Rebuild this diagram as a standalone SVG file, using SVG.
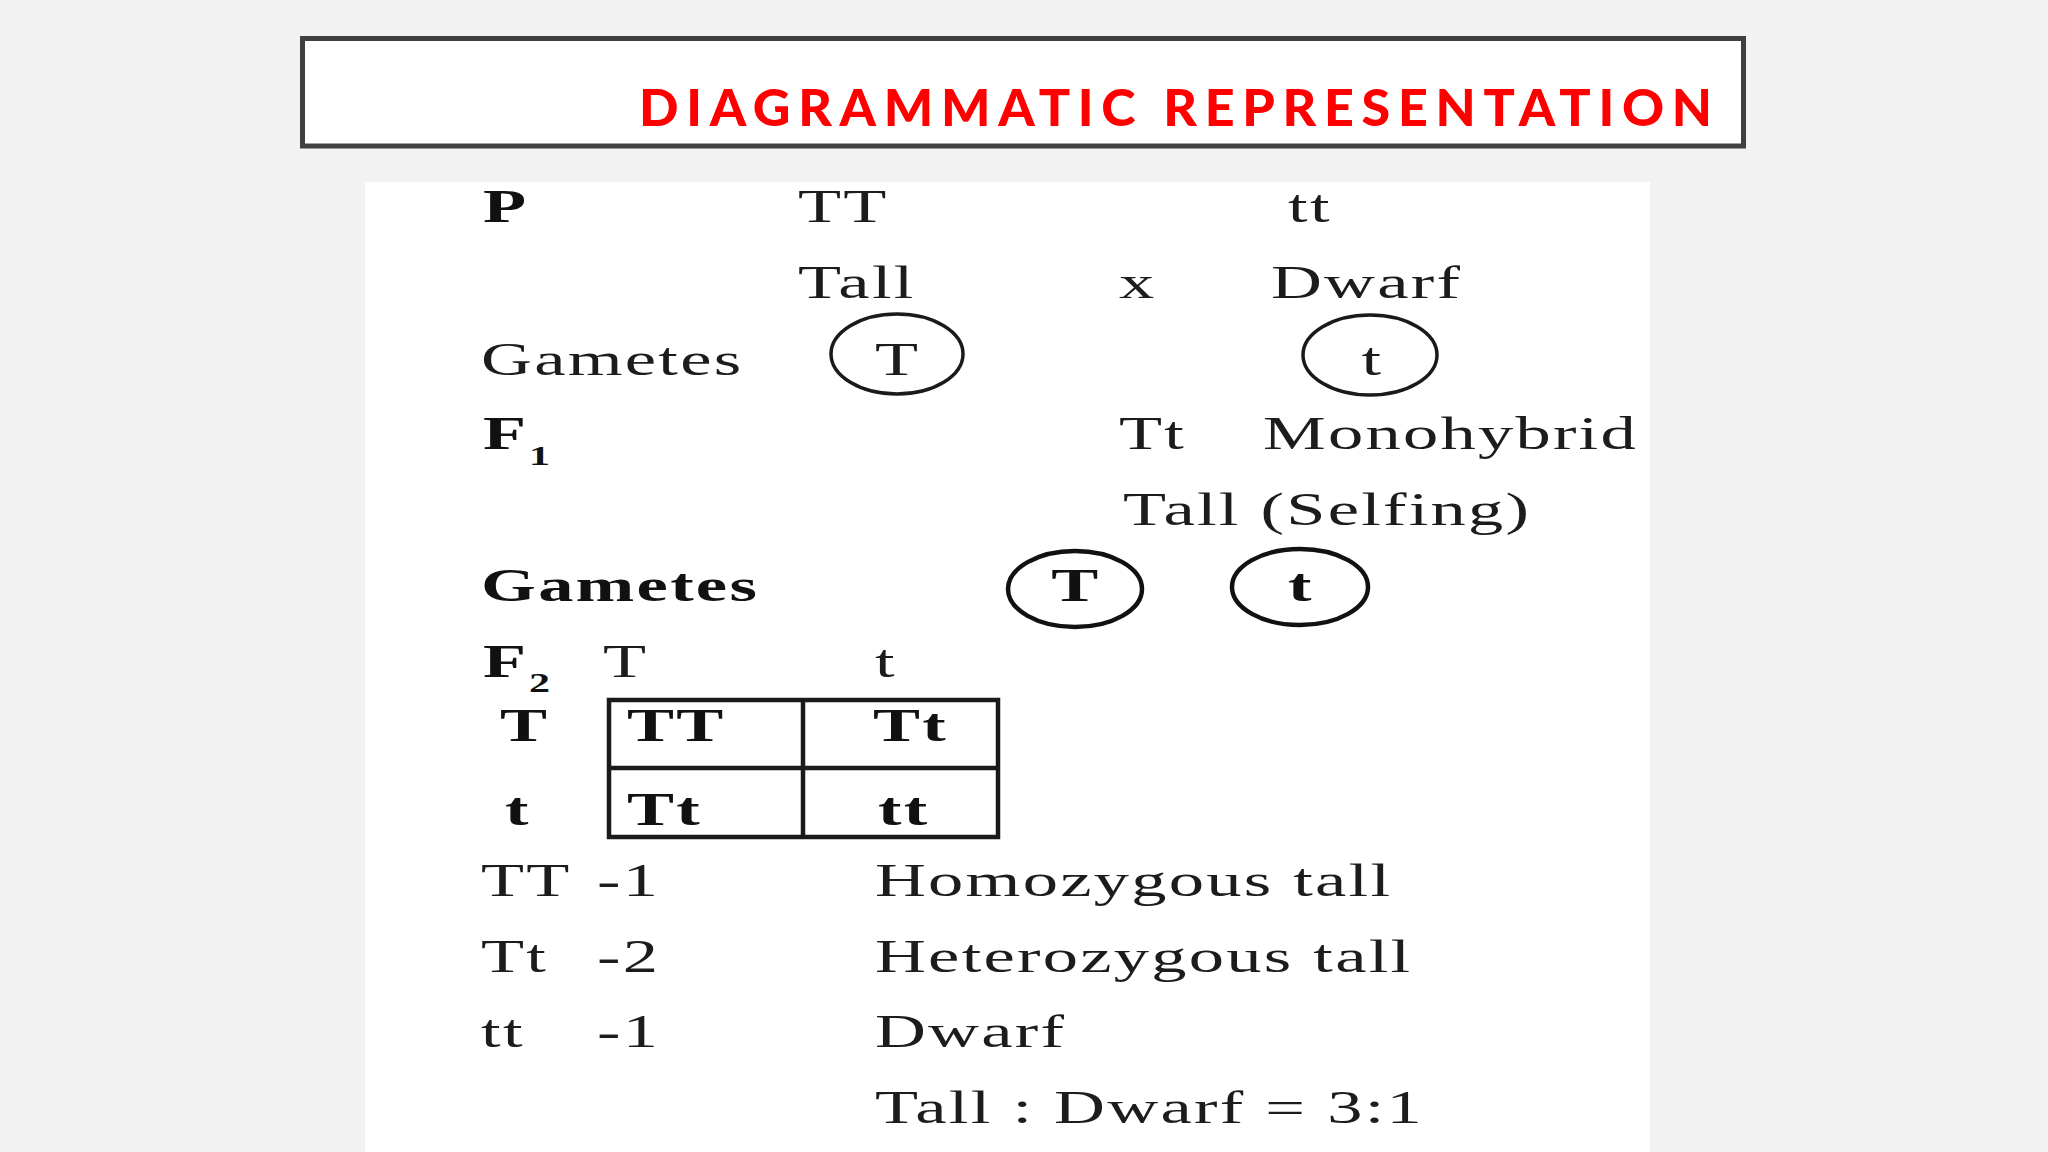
<svg xmlns="http://www.w3.org/2000/svg" width="2048" height="1152" viewBox="0 0 2048 1152">
  <style>
    .t { font-family: "Liberation Serif", "Times New Roman", serif; font-size: 47px; fill: #1c1c1c; letter-spacing: 1.5px; }
    .b { font-weight: bold; fill: #111; }
    .sub { font-size: 28px; }
    .c { text-anchor: middle; }
    .ring { fill: none; stroke: #1a1a1a; stroke-width: 3.5; }
    .ringb { fill: none; stroke: #111; stroke-width: 4.5; }
    .grid { fill: none; stroke: #1a1a1a; stroke-width: 4.5; }
  </style>
  <rect x="0" y="0" width="2048" height="1152" fill="#f2f2f2"/>

  <g id="title">
    <rect x="302.5" y="38.5" width="1441" height="107.5" fill="#ffffff" stroke="#404040" stroke-width="5"/>
    <text x="639" y="126" textLength="1073" lengthAdjust="spacing" font-family="Lato, 'Open Sans', sans-serif" font-weight="900" font-size="52" fill="#ff0000">DIAGRAMMATIC REPRESENTATION</text>
  </g>

  <g id="panel">
    <rect x="365" y="182" width="1285" height="970" fill="#ffffff"/>
  </g>

  <g id="shapes">
    <ellipse id="gamete-T1" class="ring" cx="897" cy="354" rx="66" ry="40"/>
    <ellipse id="gamete-t1" class="ring" cx="1370" cy="355" rx="67" ry="40"/>
    <ellipse id="gamete-T2" class="ringb" cx="1075" cy="589" rx="67" ry="38"/>
    <ellipse id="gamete-t2" class="ringb" cx="1300" cy="587" rx="68" ry="38"/>
    <g id="punnett">
      <rect class="grid" x="609" y="700" width="389" height="137"/>
      <line class="grid" x1="803" y1="700" x2="803" y2="837"/>
      <line class="grid" x1="609" y1="768" x2="998" y2="768"/>
    </g>
  </g>

  <g id="texts" transform="scale(1.5 1)">
    <g id="row-parents">
      <text class="t b" x="322" y="222">P</text>
      <text class="t" x="532" y="222">TT</text>
      <text class="t" x="858.7" y="222">tt</text>
    </g>
    <g id="row-phenotypes">
      <text class="t" x="532" y="298">Tall</text>
      <text class="t" x="746" y="298">x</text>
      <text class="t" x="847.3" y="298">Dwarf</text>
    </g>
    <g id="row-gametes1">
      <text class="t" x="320.7" y="375">Gametes</text>
      <text class="t c" x="598.5" y="375">T</text>
      <text class="t c" x="915" y="375">t</text>
    </g>
    <g id="row-f1">
      <text class="t b" x="322" y="449">F</text>
      <text class="t b sub" x="352.7" y="465">1</text>
      <text class="t" x="746" y="449">Tt</text>
      <text class="t" x="842" y="449">Monohybrid</text>
    </g>
    <g id="row-selfing">
      <text class="t" x="748.7" y="525">Tall (Selfing)</text>
    </g>
    <g id="row-gametes2">
      <text class="t b" x="320.7" y="601">Gametes</text>
      <text class="t b c" x="717.2" y="601">T</text>
      <text class="t b c" x="867.2" y="601">t</text>
    </g>
    <g id="row-f2">
      <text class="t b" x="322" y="677">F</text>
      <text class="t b sub" x="352.7" y="692">2</text>
      <text class="t" x="402" y="677">T</text>
      <text class="t" x="583.3" y="677">t</text>
    </g>
    <g id="punnett-text">
      <text class="t b" x="333.3" y="741">T</text>
      <text class="t b" x="418" y="741">TT</text>
      <text class="t b" x="582" y="741">Tt</text>
      <text class="t b" x="336.7" y="825">t</text>
      <text class="t b" x="418" y="825">Tt</text>
      <text class="t b" x="585.3" y="825">tt</text>
    </g>
    <g id="summary">
      <text class="t" x="320.7" y="896">TT</text>
      <text class="t" x="398" y="896">-1</text>
      <text class="t" x="583.3" y="896">Homozygous tall</text>
      <text class="t" x="320.7" y="972">Tt</text>
      <text class="t" x="398" y="972">-2</text>
      <text class="t" x="583.3" y="972">Heterozygous tall</text>
      <text class="t" x="320.7" y="1047">tt</text>
      <text class="t" x="398" y="1047">-1</text>
      <text class="t" x="583.3" y="1047">Dwarf</text>
      <text class="t" x="583.3" y="1123">Tall : Dwarf = 3:1</text>
    </g>
  </g>
</svg>
